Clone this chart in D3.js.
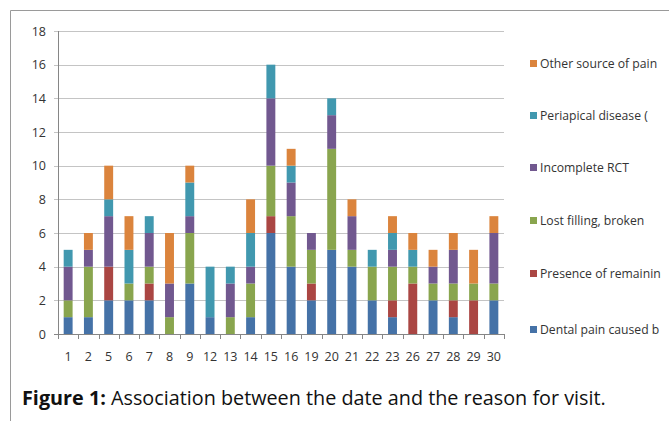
<!DOCTYPE html>
<html>
<head>
<meta charset="utf-8">
<script src="https://cdn.jsdelivr.net/npm/d3@7"></script>
<style>
  body { margin: 0; background: #fff; }
  svg { display: block; font-family: "Open Sans", "Liberation Sans", sans-serif; }
</style>
</head>
<body>
<div class="chart"></div>
<script>
var days = ["1","2","5","6","7","8","9","12","13","14","15","16","19","20","21","22","23","26","27","28","29","30"];
var seriesNames = ["Dental pain caused b", "Presence of remainin", "Lost filling, broken", "Incomplete RCT", "Periapical disease (", "Other source of pain"];
var dentalPain   = [1,1,2,2,2,0,3,1,0,1,6,4,2,5,4,2,1,0,2,1,0,2];
var remaining    = [0,0,2,0,1,0,0,0,0,0,1,0,1,0,0,0,1,3,0,1,2,0];
var lostFilling  = [1,3,0,1,1,1,3,0,1,2,3,3,2,6,1,2,2,1,1,1,1,1];
var incomplete   = [2,1,3,0,2,2,1,0,2,1,4,2,1,2,2,0,1,0,1,2,0,3];
var periapical   = [1,0,1,2,1,0,2,3,1,2,2,1,0,1,0,1,1,1,0,0,0,0];
var otherSource  = [0,1,2,2,0,3,1,0,0,2,0,1,0,0,1,0,1,1,1,1,2,1];
var yTicks = [0,2,4,6,8,10,12,14,16,18];
var colors = ["#4572A7","#AA4643","#89A54E","#71588F","#4198AF","#DB843D"];

var allSeries = [dentalPain, remaining, lostFilling, incomplete, periapical, otherSource];
var rows = days.map(function(d, i) {
  var r = {day: d};
  seriesNames.forEach(function(s, j) { r[s] = allSeries[j][i]; });
  return r;
});

var W = 669, H = 421;
var svg = d3.select('.chart').append('svg').attr('width', W).attr('height', H);

// outer frame
svg.append('path').attr('d', 'M10.5,' + H + 'V10.5H' + W)
  .attr('fill', 'none').attr('stroke', '#9a9a9a').attr('stroke-width', 1);

var x = d3.scaleBand().domain(days).range([58, 504]).paddingInner(0.56).paddingOuter(0.28);
var y = d3.scaleLinear().domain([0, 18]).range([334, 31]);

// gridlines
svg.append('g').selectAll('line').data(yTicks).enter().append('line')
  .attr('x1', 54).attr('x2', 504)
  .attr('y1', function(d){ return Math.round(y(d)) + 0.5; })
  .attr('y2', function(d){ return Math.round(y(d)) + 0.5; })
  .attr('stroke', function(d){ return d === 0 ? '#868686' : '#c4c4c4'; });

svg.append('g').selectAll('text').data(yTicks).enter().append('text')
  .attr('x', 46).attr('y', function(d){ return y(d) + 4.5; })
  .attr('text-anchor', 'end').attr('font-size', 12.5).attr('fill', '#333')
  .text(function(d){ return d; });

// y axis line
svg.append('line').attr('x1', 58.5).attr('x2', 58.5).attr('y1', y(18)).attr('y2', y(0))
  .attr('stroke', '#868686');

// x ticks between categories
var xt = d3.range(days.length + 1).map(function(i){ return 58 + i * (446 / days.length); });
svg.append('g').selectAll('line').data(xt).enter().append('line')
  .attr('x1', function(d){ return Math.round(d) + 0.5; })
  .attr('x2', function(d){ return Math.round(d) + 0.5; })
  .attr('y1', y(0)).attr('y2', y(0) + 5).attr('stroke', '#868686');

svg.append('g').selectAll('text').data(days).enter().append('text')
  .attr('x', function(d){ return x(d) + x.bandwidth() / 2; })
  .attr('y', 361).attr('text-anchor', 'middle').attr('font-size', 12.5).attr('fill', '#333')
  .text(function(d){ return d; });

// stacked bars
var stack = d3.stack().keys(seriesNames)(rows);
svg.append('g').selectAll('g').data(stack).enter().append('g')
  .attr('fill', function(d, i){ return colors[i]; })
  .selectAll('rect').data(function(d){ return d; }).enter().append('rect')
  .attr('x', function(d){ return x(d.data.day); })
  .attr('width', x.bandwidth())
  .attr('y', function(d){ return y(d[1]); })
  .attr('height', function(d){ return y(d[0]) - y(d[1]); });

// legend
var legendY = [64, 116, 168, 221, 274, 330];
var legendOrder = [5, 4, 3, 2, 1, 0];
var lg = svg.append('g').selectAll('g').data(legendOrder).enter().append('g')
  .attr('transform', function(d, i){ return 'translate(530,' + legendY[i] + ')'; });
lg.append('rect').attr('x', 0).attr('y', -4).attr('width', 7).attr('height', 7)
  .attr('fill', function(d){ return colors[d]; });
lg.append('text').attr('x', 10).attr('y', 4).attr('font-size', 12.2).attr('fill', '#333')
  .text(function(d){ return seriesNames[d]; });

// caption
var cap = svg.append('text').attr('x', 22).attr('y', 405).attr('font-size', 19.8).attr('fill', '#111');
cap.append('tspan').attr('font-weight', 'bold').text('Figure 1:');
cap.append('tspan').text(' Association between the date and the reason for visit.');
</script>
</body>
</html>
